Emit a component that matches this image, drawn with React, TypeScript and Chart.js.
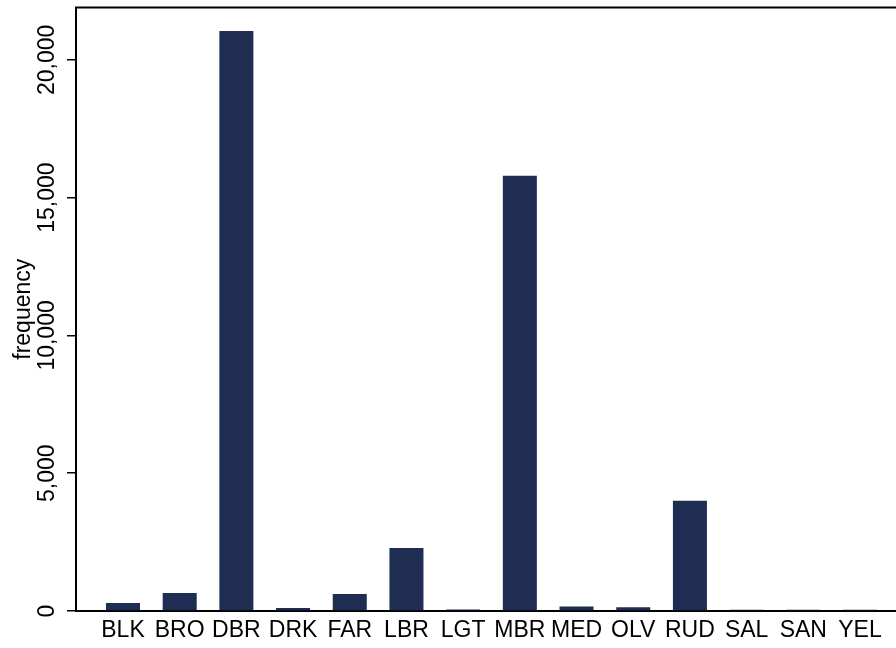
import React, { useEffect, useRef } from "react";
import { Chart, registerables } from "chart.js";

Chart.register(...registerables);

const categories = ["BLK", "BRO", "DBR", "DRK", "FAR", "LBR", "LGT", "MBR", "MED", "OLV", "RUD", "SAL", "SAN", "YEL"];
const frequencies = [290, 650, 21050, 110, 620, 2290, 50, 15790, 160, 135, 4000, 45, 45, 45];
const yTickValues = [0, 5000, 10000, 15000, 20000];
const yTitle = "frequency";

const FONT = "'Liberation Sans', Arial, Helvetica, sans-serif";
const BAR_COLOR = "#1f2d53";

const fmt = (v: number) => v.toLocaleString("en-US");

export default function App() {
  const ref = useRef<HTMLCanvasElement | null>(null);

  useEffect(() => {
    if (!ref.current) return;
    const axesPlugin = {
      id: "stataAxes",
      afterDraw(chart: any) {
        const { ctx, chartArea, scales } = chart;
        const y = scales.y;
        ctx.save();
        ctx.strokeStyle = "#000";
        ctx.lineWidth = 2;
        ctx.beginPath();
        ctx.moveTo(chartArea.left - 1, chartArea.top);
        ctx.lineTo(chartArea.right, chartArea.top);
        ctx.stroke();
        ctx.fillStyle = "#000";
        ctx.font = `23px ${FONT}`;
        ctx.textAlign = "center";
        ctx.textBaseline = "alphabetic";
        for (const t of y.ticks) {
          const py = y.getPixelForValue(t.value);
          ctx.save();
          ctx.translate(54, py);
          ctx.rotate(-Math.PI / 2);
          ctx.fillText(fmt(t.value), 0, 0);
          ctx.restore();
        }
        ctx.save();
        ctx.translate(30, (chartArea.top + chartArea.bottom) / 2);
        ctx.rotate(-Math.PI / 2);
        ctx.fillText(yTitle, 0, 0);
        ctx.restore();
        ctx.restore();
      },
    };

    const chart = new Chart(ref.current, {
      type: "bar",
      data: {
        datasets: [
          {
            label: yTitle,
            data: frequencies.map((v, i) => ({ x: i, y: v })),
            backgroundColor: BAR_COLOR,
            borderWidth: 0,
            categoryPercentage: 1,
            barPercentage: 0.6,
          },
        ],
      },
      options: {
        responsive: false,
        animation: false,
        devicePixelRatio: 1,
        layout: { padding: { top: 7.5, left: 0, right: 0, bottom: 0 } },
        plugins: { legend: { display: false }, tooltip: { enabled: false } },
        scales: {
          x: {
            type: "linear",
            offset: false,
            min: -0.829,
            max: 13.635,
            afterBuildTicks: (scale: any) => {
              scale.ticks = categories.map((_, i) => ({ value: i }));
            },
            afterFit: (scale: any) => {
              scale.height = 37;
            },
            ticks: {
              autoSkip: false,
              maxRotation: 0,
              minRotation: 0,
              padding: 6,
              color: "#000",
              font: { family: FONT, size: 23 },
              callback: (v: any) => categories[Math.round(Number(v))] ?? "",
            },
            grid: { display: true, drawOnChartArea: false, drawTicks: false },
            border: { display: true, color: "#000", width: 2 },
          },
          y: {
            type: "linear",
            min: 0,
            max: 21900,
            afterBuildTicks: (scale: any) => {
              scale.ticks = yTickValues.map((v) => ({ value: v }));
            },
            afterFit: (scale: any) => {
              scale.width = 76;
            },
            ticks: { display: false },
            grid: {
              display: true,
              drawOnChartArea: false,
              drawTicks: true,
              tickLength: 9,
              color: "#000",
              lineWidth: 1.5,
            },
            border: { display: true, color: "#000", width: 2 },
          },
        },
      },
      plugins: [axesPlugin],
    } as any);
    return () => chart.destroy();
  }, []);

  return (
    <div style={{ position: "fixed", left: 0, top: 0, width: 896, height: 648, background: "#fff" }}>
      <canvas ref={ref} width={896} height={648} style={{ display: "block", width: 896, height: 648 }} />
    </div>
  );
}
